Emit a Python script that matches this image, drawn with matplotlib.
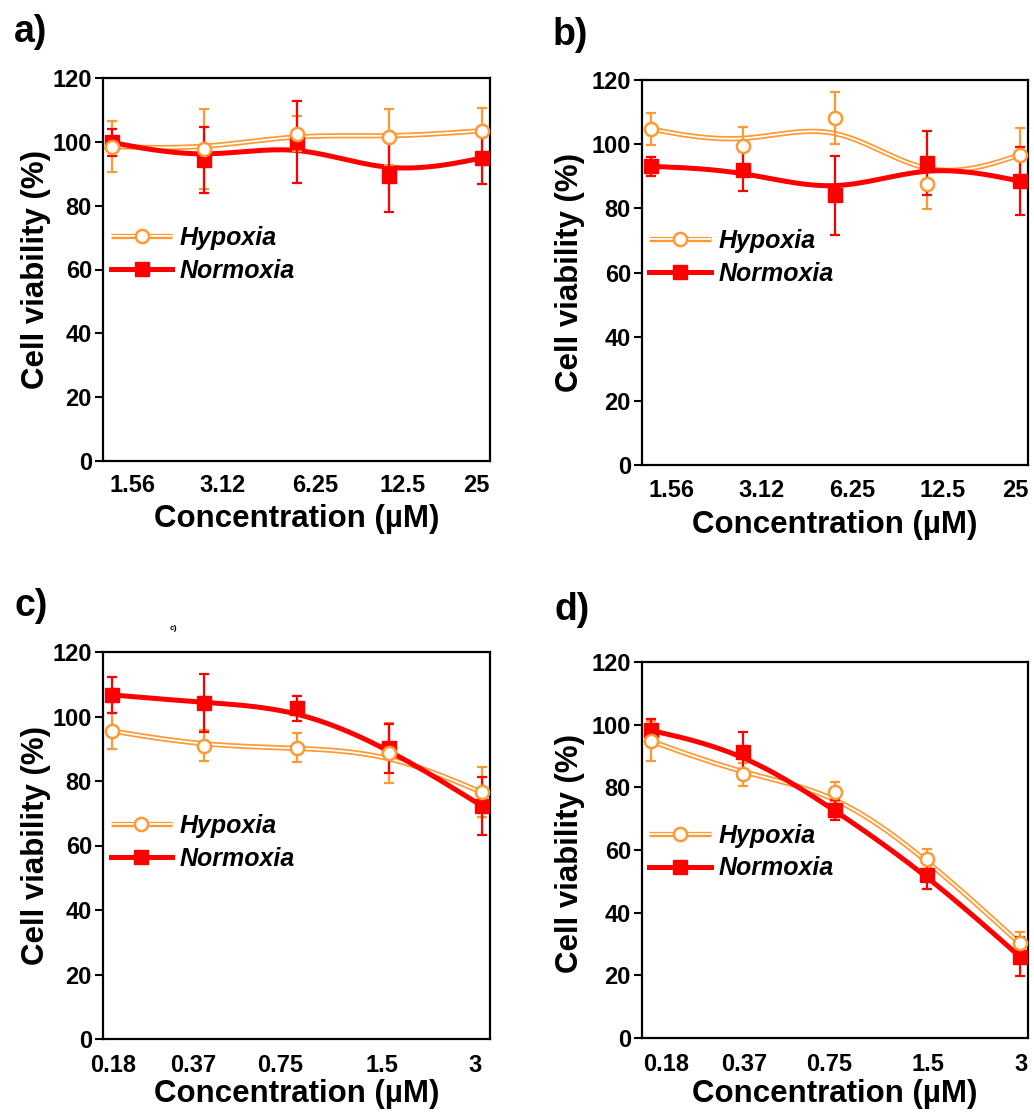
import numpy as np
import matplotlib
matplotlib.use("Agg")
import matplotlib.pyplot as plt
from matplotlib.lines import Line2D
from matplotlib.legend_handler import HandlerTuple

plt.rcParams['font.family'] = ['Liberation Sans', 'DejaVu Sans']
plt.rcParams['font.weight'] = 'bold'

# ---------------- data ----------------
conc_ab = ["1.56", "3.12", "6.25", "12.5", "25"]
conc_cd = ["0.18", "0.37", "0.75", "1.5", "3"]

a_hyp = [98.5, 97.7, 102.5, 101.4, 103.5]
a_hyp_err = [8.0, 12.5, 5.5, 8.8, 7.0]
a_nor = [99.8, 94.4, 100.0, 89.3, 94.9]
a_nor_err = [4.2, 10.3, 12.9, 11.3, 8.0]

b_hyp = [104.7, 99.5, 108.2, 87.5, 96.6]
b_hyp_err = [5.0, 6.0, 8.0, 7.6, 8.5]
b_nor = [93.1, 91.9, 84.1, 94.2, 88.5]
b_nor_err = [3.0, 6.6, 12.3, 10.0, 10.5]

c_hyp = [95.5, 90.9, 90.3, 88.6, 76.5]
c_hyp_err = [5.5, 4.8, 4.5, 9.3, 7.8]
c_nor = [106.7, 104.3, 102.5, 90.1, 72.3]
c_nor_err = [5.7, 9.0, 3.8, 7.5, 9.0]

d_hyp = [94.8, 84.2, 78.6, 57.0, 30.2]
d_hyp_err = [6.3, 3.7, 3.0, 3.3, 3.7]
d_nor = [98.2, 91.4, 72.8, 52.0, 26.0]
d_nor_err = [3.5, 6.4, 3.2, 4.4, 6.3]

yticks = [0, 20, 40, 60, 80, 100, 120]

# --------------- style -----------------
ORANGE = '#FF9933'
RED = '#FF0000'
W, H = 1034, 1115


def bspline(xs, ys, n=40):
    """Uniform cubic B-spline (Origin-style) with clamped end points."""
    P = np.column_stack([xs, ys]).astype(float)
    Q = np.vstack([P[0], P[0], P, P[-1], P[-1]])
    t = np.linspace(0, 1, n)
    b0 = (1 - t) ** 3 / 6
    b1 = (3 * t ** 3 - 6 * t ** 2 + 4) / 6
    b2 = (-3 * t ** 3 + 3 * t ** 2 + 3 * t + 1) / 6
    b3 = t ** 3 / 6
    pts = []
    for j in range(len(Q) - 3):
        seg = (np.outer(b0, Q[j]) + np.outer(b1, Q[j + 1]) +
               np.outer(b2, Q[j + 2]) + np.outer(b3, Q[j + 3]))
        pts.append(seg)
    pts = np.vstack(pts)
    return pts[:, 0], pts[:, 1]


def axrect(l, r, t, b):
    return [l / W, 1 - b / H, (r - l) / W, (b - t) / H]


panels = [
    dict(rect=axrect(103, 490, 78, 461), lab=conc_ab, hyp=a_hyp, he=a_hyp_err,
         nor=a_nor, ne=a_nor_err, tickpos=[0.22, 1.20, 2.20, 3.15, 3.94],
         ylab=(-0.172, 0.5), xlab=(0.5, -0.152), leg=(0.021, 0.540), tpad=9,
         letter='a)', lpos=(14, 32)),
    dict(rect=axrect(642, 1028, 80, 465), lab=conc_ab, hyp=b_hyp, he=b_hyp_err,
         nor=b_nor, ne=b_nor_err, tickpos=[0.23, 1.20, 2.18, 3.16, 3.95],
         ylab=(-0.186, 0.5), xlab=(0.5, -0.155), leg=(0.019, 0.539), tpad=10,
         letter='b)', lpos=(553, 35)),
    dict(rect=axrect(103, 490, 652, 1039), lab=conc_cd, hyp=c_hyp, he=c_hyp_err,
         nor=c_nor, ne=c_nor_err, tickpos=[0.02, 0.88, 1.82, 2.92, 3.93],
         ylab=(-0.172, 0.5), xlab=(0.5, -0.143), leg=(0.020, 0.508), tpad=11,
         letter='c)', lpos=(14, 606)),
    dict(rect=axrect(642, 1028, 662, 1038), lab=conc_cd, hyp=d_hyp, he=d_hyp_err,
         nor=d_nor, ne=d_nor_err, tickpos=[0.17, 1.01, 1.93, 3.01, 4.02],
         ylab=(-0.186, 0.49), xlab=(0.5, -0.148), leg=(0.019, 0.495), tpad=11,
         letter='d)', lpos=(554, 610)),
]

fig = plt.figure(figsize=(W / 100, H / 100), dpi=100)

for p in panels:
    ax = fig.add_axes(p['rect'])
    x = np.arange(len(p['lab']))

    # Hypoxia: double line (orange with white core)
    sx, sy = bspline(x, p['hyp'])
    ax.plot(sx, sy, color=ORANGE, lw=3.8, solid_capstyle='butt', zorder=2)
    ax.plot(sx, sy, color='white', lw=1.3, solid_capstyle='butt', zorder=2.1)
    # Normoxia: thick red
    nx, ny = bspline(x, p['nor'])
    ax.plot(nx, ny, color=RED, lw=3.6, zorder=3)

    ax.errorbar(x, p['hyp'], yerr=p['he'], fmt='none', ecolor=ORANGE,
                elinewidth=1.6, capsize=3.6, capthick=1.6, zorder=4)
    ax.errorbar(x, p['nor'], yerr=p['ne'], fmt='none', ecolor=RED,
                elinewidth=1.6, capsize=3.6, capthick=1.6, zorder=4)
    ax.plot(x, p['nor'], ls='none', marker='s', ms=9.5, mfc=RED, mec=RED,
            zorder=5)
    ax.plot(x, p['hyp'], ls='none', marker='o', ms=9.5, mfc='white',
            mec=ORANGE, mew=1.8, zorder=6)

    ax.set_xlim(-0.094, 4.09)
    ax.set_ylim(0, 120)
    ax.set_yticks(yticks)
    ax.set_yticklabels([str(v) for v in yticks], fontsize=17, fontweight='bold')
    ax.set_xticks(p['tickpos'])
    ax.set_xticklabels(p['lab'], fontsize=17, fontweight='bold')
    ax.tick_params(axis='x', length=0, pad=p['tpad'])
    ax.tick_params(axis='y', direction='out', length=6, width=1.5, pad=2)
    for s in ax.spines.values():
        s.set_linewidth(1.6)

    ax.set_ylabel('Cell viability (%)', fontsize=22.5, fontweight='bold')
    ax.yaxis.set_label_coords(*p['ylab'])
    ax.yaxis.label.set_va('center')
    ax.set_xlabel('Concentration (\u00b5M)', fontsize=22.5, fontweight='bold')
    ax.xaxis.set_label_coords(*p['xlab'])
    ax.xaxis.label.set_va('center')

    h_or = Line2D([], [], color=ORANGE, lw=3.8, solid_capstyle='butt')
    h_wh = Line2D([], [], color='white', lw=1.3, solid_capstyle='butt')
    h_mk = Line2D([], [], ls='none', marker='o', ms=9.5, mfc='white',
                  mec=ORANGE, mew=1.8)
    h_nr = Line2D([], [], color=RED, lw=3.6, marker='s', ms=9.5, mfc=RED,
                  mec=RED)
    ax.legend(handles=[(h_or, h_wh, h_mk), h_nr], labels=['Hypoxia', 'Normoxia'],
              handler_map={tuple: HandlerTuple(ndivide=1, pad=0)},
              loc='center left', bbox_to_anchor=p['leg'], frameon=False,
              borderpad=0, borderaxespad=0, handlelength=2.45,
              handletextpad=0.3, labelspacing=0.35,
              prop=dict(size=18, weight='bold', style='italic'))

    fig.text(p['lpos'][0] / W, 1 - p['lpos'][1] / H, p['letter'], fontsize=27,
             fontweight='bold', ha='left', va='center')

# small stray label in panel c
fig.text(173 / W, 1 - 628 / H, 'c)', fontsize=6, fontweight='bold',
         ha='center', va='center')

fig.savefig('out.png', dpi=100, facecolor='white')
